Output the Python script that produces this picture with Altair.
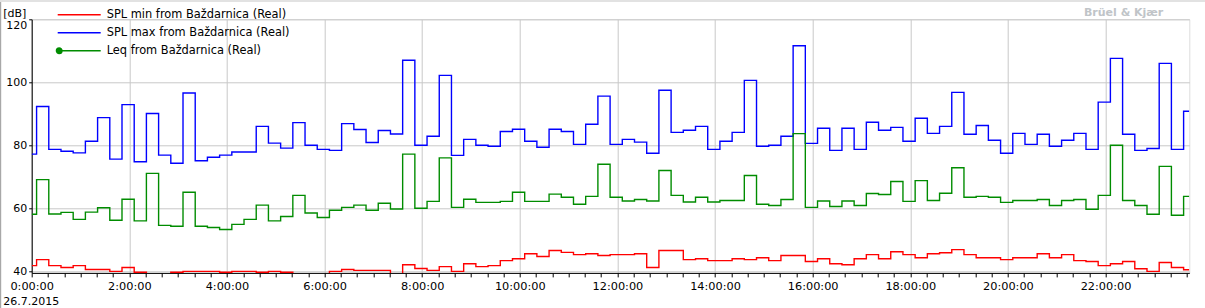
import altair as alt
import pandas as pd

# interval start times in minutes after midnight (logger blocks), last entry = end of data
START_MIN = [0, 6, 21, 36, 51, 66, 81, 96, 111, 126, 141, 156, 171, 186, 201, 216, 231, 246,
             261, 276, 291, 306, 321, 336, 351, 366, 381, 396, 411, 426, 441, 456, 471, 486,
             501, 516, 531, 546, 561, 576, 591, 606, 621, 636, 651, 666, 681, 696, 711, 726,
             741, 756, 771, 786, 801, 816, 831, 846, 861, 876, 891, 906, 921, 936, 951, 966,
             981, 996, 1011, 1026, 1041, 1056, 1071, 1086, 1101, 1116, 1131, 1146, 1161, 1176,
             1191, 1206, 1221, 1236, 1251, 1266, 1281, 1296, 1311, 1326, 1341, 1356, 1371,
             1386, 1401, 1416]
END_MIN = 1423

SERIES = ["SPL min from Baždarnica (Real)",
          "SPL max from Baždarnica (Real)",
          "Leq from Baždarnica (Real)"]
COLORS = ["#ff0000", "#0000ff", "#008c00"]

SPL_MIN = [41.8, 43.7, 41.8, 41.2, 41.8, 40.6, 40.6, 40.0, 41.2, 39.7, 38.5, 38.5, 39.7, 40.0,
           40.0, 40.0, 39.7, 40.0, 40.0, 39.7, 40.0, 39.7, 38.5, 38.5, 38.5, 40.0, 40.6, 40.3,
           40.3, 40.3, 38.5, 42.1, 40.9, 40.3, 41.5, 40.0, 42.4, 41.5, 41.8, 43.4, 44.0, 45.6,
           44.7, 46.6, 46.0, 45.3, 45.6, 45.0, 45.3, 45.3, 45.6, 41.2, 46.6, 46.6, 43.7, 44.0,
           43.4, 43.4, 44.0, 43.7, 44.3, 43.4, 45.0, 45.0, 43.1, 44.0, 42.4, 42.1, 44.0, 45.3,
           44.0, 46.2, 45.3, 44.3, 45.6, 45.9, 46.9, 45.3, 44.3, 44.3, 43.7, 44.3, 44.3, 45.6,
           44.3, 45.3, 43.4, 43.1, 41.8, 42.4, 43.1, 40.8, 40.0, 42.8, 41.2, 40.5]

SPL_MAX = [77.2, 92.3, 78.7, 78.1, 77.6, 81.3, 88.8, 75.6, 92.9, 74.8, 90.1, 76.9, 74.3, 96.6,
           75.1, 76.2, 76.9, 77.9, 77.9, 86.0, 80.7, 79.1, 87.2, 80.0, 78.7, 78.4, 86.9, 85.0,
           80.9, 84.7, 83.6, 107.0, 80.0, 82.9, 102.2, 76.8, 81.9, 80.0, 79.7, 84.4, 85.1, 81.3,
           79.4, 85.1, 84.4, 80.3, 86.7, 95.6, 80.3, 81.9, 81.0, 77.5, 97.5, 84.1, 84.8, 86.0,
           78.7, 81.3, 84.1, 100.6, 79.7, 80.0, 82.9, 111.6, 80.6, 85.4, 78.4, 85.4, 78.7, 87.3,
           84.8, 85.7, 81.3, 88.6, 83.8, 86.0, 96.8, 83.5, 86.3, 81.6, 77.5, 83.8, 80.3, 83.5,
           79.7, 81.6, 83.8, 78.7, 93.7, 107.6, 83.5, 78.4, 79.0, 106.0, 78.7, 90.8]

LEQ = [58.1, 69.1, 58.2, 58.7, 56.5, 58.8, 60.2, 56.2, 62.9, 56.0, 71.1, 54.6, 54.3, 65.1,
       54.3, 53.9, 53.3, 54.9, 56.5, 61.0, 56.0, 57.4, 64.1, 58.5, 57.1, 59.4, 60.3, 61.0,
       59.4, 61.6, 59.8, 77.2, 60.0, 62.2, 76.0, 60.3, 62.9, 61.9, 61.9, 62.2, 65.1, 62.2,
       62.2, 64.5, 63.5, 61.3, 63.8, 74.0, 63.5, 62.3, 62.8, 62.3, 72.0, 64.1, 62.0, 63.5,
       62.0, 62.5, 62.5, 70.4, 61.3, 60.9, 62.8, 83.7, 60.3, 62.3, 60.6, 62.3, 60.9, 64.7,
       64.4, 68.5, 62.2, 68.8, 62.5, 64.8, 72.9, 63.5, 63.8, 63.5, 61.9, 62.5, 62.5, 62.8,
       60.9, 62.5, 62.8, 59.7, 64.1, 80.0, 62.5, 60.9, 58.1, 73.3, 57.8, 63.8]

Y_TICKS = [40, 60, 80, 100, 120]
X_TICKS = list(range(0, 1424, 20))

rows = []
for order, (name, vals) in enumerate(zip(SERIES, [SPL_MIN, SPL_MAX, LEQ])):
    for t, v in zip(START_MIN, vals):
        rows.append({"series": name, "t": t, "v": v, "o": order})
    rows.append({"series": name, "t": END_MIN, "v": vals[-1], "o": order})
df = pd.DataFrame(rows)

FONT = "DejaVu Sans"
W, H = 1157.6, 253.6


def circle(cx, r):
    return "M{:.2f},0a{r},{r} 0 1,0 {d},0a{r},{r} 0 1,0 -{d},0".format(cx - r, r=r, d=2 * r)


# legend symbols: a 43 px line (unit = 5 px with symbolSize 100), Leq gets a dot at its left end
line_shape = "M-4.3,0H4.3"
leq_shape = line_shape + circle(-4.0, 0.56) + circle(-4.0, 0.36) + circle(-4.0, 0.16)
sym_expr = ("datum.label === '" + SERIES[2] + "' ? '" + leq_shape + "' : '" + line_shape + "'")

lines = alt.Chart(df).mark_line(
    interpolate="step-after", strokeWidth=1.4, clip=True
).encode(
    x=alt.X("t:Q",
            scale=alt.Scale(domain=[0, END_MIN], nice=False, zero=False),
            axis=alt.Axis(values=X_TICKS,
                          labelExpr="datum.value % 120 === 0 ? floor(datum.value/60) + ':00:00' : ''",
                          labelOverlap=False, labelFlush=False,
                          tickSize=4, tickColor="black", tickWidth=1,
                          domainColor="black", domainWidth=1,
                          labelFont=FONT, labelFontSize=11.3, labelColor="black",
                          labelPadding=4,
                          grid=True, gridColor="#c8c8c8", gridWidth=1,
                          gridOpacity={"condition": {"test": "datum.value % 120 === 0", "value": 1}, "value": 0},
                          title="26.7.2015", titleFont=FONT, titleFontSize=11,
                          titleFontWeight="normal", titleColor="black",
                          titleAlign="left", titleBaseline="alphabetic",
                          titleX=-29, titleY=32)),
    y=alt.Y("v:Q",
            scale=alt.Scale(domain=[39.5, 120], nice=False, zero=False),
            axis=alt.Axis(values=Y_TICKS, labelFlush=False,
                          labelBaseline={"condition": {"test": "datum.value === 120", "value": "top"},
                                         "value": "middle"},
                          tickSize=3, tickColor="black", domainColor="black",
                          labelFont=FONT, labelFontSize=11, labelColor="black",
                          labelPadding=2,
                          grid=True, gridColor="#c8c8c8", gridWidth=1,
                          title="[dB]", titleAngle=0, titleFont=FONT, titleFontSize=11,
                          titleFontWeight="normal", titleColor="black",
                          titleAlign="left", titleBaseline="alphabetic",
                          titleX=-29, titleY=-3)),
    color=alt.Color("series:N",
                    scale=alt.Scale(domain=SERIES, range=COLORS),
                    legend=alt.Legend(title=None, orient="none", legendX=41.5, legendY=-10.5,
                                      direction="vertical", padding=0,
                                      symbolType={"expr": sym_expr},
                                      symbolSize=100, symbolStrokeWidth=1.4,
                                      labelFont=FONT, labelFontSize=11.4, labelColor="black",
                                      labelLimit=500, labelOffset=21.5, rowPadding=6)),
    order=alt.Order("o:Q"),
)

frame_df = pd.DataFrame({"k": [0]})
left_edge = alt.Chart(frame_df).mark_rule(color="#a8a8a8", strokeWidth=1.2, clip=False).encode(
    x=alt.value(-31.1), y=alt.value(-19.3), y2=alt.value(288.7))
top_edge = alt.Chart(frame_df).mark_rule(color="#e2e2e2", strokeWidth=2, clip=False).encode(
    x=alt.value(-31.7), x2=alt.value(1173.3), y=alt.value(-18.3))

chart = alt.layer(lines, left_edge, top_edge).properties(
    width=W, height=H,
    title=alt.TitleParams(text="Brüel & Kjær", anchor="end", frame="group", offset=3,
                          dx=-26, dy=22,
                          font=FONT, fontSize=11, fontWeight="bold", color="#c0c4c8"),
    autosize=alt.AutoSizeParams(type="none"),
    padding={"left": 31.7, "top": 19.3, "right": 15.7, "bottom": 35.1},
).configure_view(
    strokeOpacity=0
).configure(background="white")

chart.save("out.html", embed_options={"renderer": "svg", "actions": False})
